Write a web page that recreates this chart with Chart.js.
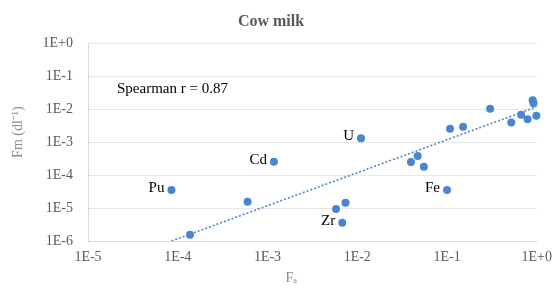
<!DOCTYPE html>
<html>
<head>
<meta charset="utf-8">
<script src="https://cdn.jsdelivr.net/npm/chart.js@4/dist/chart.umd.min.js"></script>
<style>
  html, body { margin: 0; padding: 0; background: #ffffff; }
  #wrap { width: 560px; height: 289px; }
</style>
</head>
<body>
<div id="wrap"><canvas id="c" width="560" height="289"></canvas></div>
<script>
// ---- data ----
const fa = [8.5e-5, 1.37e-4, 6.0e-4, 1.18e-3, 5.8e-3, 6.8e-3, 7.4e-3, 1.10e-2,
            3.96e-2, 4.71e-2, 5.52e-2, 0.100, 0.108, 0.151, 0.302, 0.52, 0.67,
            0.79, 0.90, 0.92, 0.99];
const fm = [3.5e-5, 1.55e-6, 1.55e-5, 2.53e-4, 9.3e-6, 3.6e-6, 1.45e-5, 1.3e-3,
            2.5e-4, 3.8e-4, 1.8e-4, 3.5e-5, 2.53e-3, 2.9e-3, 1.02e-2, 3.95e-3,
            6.7e-3, 4.97e-3, 1.87e-2, 1.51e-2, 6.3e-3];
const pointNames = ['Pu', '', '', 'Cd', '', 'Zr', '', 'U', '', '', '', 'Fe',
                    '', '', '', '', '', '', '', '', ''];
const trendFa = [8.5e-5, 0.99];
const trendFm = [1.0e-6, 1.17e-2];
const xTicks = [1e-5, 1e-4, 1e-3, 1e-2, 1e-1, 1];
const yTicks = [1e-6, 1e-5, 1e-4, 1e-3, 1e-2, 1e-1, 1];
const titleText = 'Cow milk';
const xTitle = 'F\u2090';
const yTitle = 'Fm (dl\u207B\u00B9)';
const noteText = 'Spearman r = 0.87';

const SERIF = '"Liberation Serif", "Times New Roman", serif';
const BLUE = '#4a86d0';

function fmtExp(v) {
  const e = Math.round(Math.log10(v));
  return '1E' + (e >= 0 ? '+' : '-') + Math.abs(e);
}

const textPlugin = {
  id: 'textPlugin',
  afterDatasetsDraw(chart) {
    const ctx = chart.ctx;
    const xs = chart.scales.x, ys = chart.scales.y;
    const area = chart.chartArea;
    ctx.save();
    // point labels
    ctx.fillStyle = '#000000';
    ctx.font = '15px ' + SERIF;
    ctx.textAlign = 'right';
    ctx.textBaseline = 'middle';
    pointNames.forEach((n, i) => {
      if (!n) return;
      const px = xs.getPixelForValue(fa[i]);
      const py = ys.getPixelForValue(fm[i]);
      ctx.fillText(n, px - 7, py - 2);
    });
    // Spearman note
    ctx.textAlign = 'left';
    ctx.fillText(noteText, area.left + 29, area.top + 46);
    // axis titles
    ctx.fillStyle = '#8c8c8c';
    ctx.font = '14px ' + SERIF;
    ctx.textAlign = 'center';
    ctx.fillText(xTitle, (area.left + area.right) / 2 - 21, 278);
    ctx.translate(18, (area.top + area.bottom) / 2 - 10);
    ctx.rotate(-Math.PI / 2);
    ctx.fillText(yTitle, 0, 0);
    ctx.restore();
  }
};

new Chart(document.getElementById('c'), {
  type: 'scatter',
  data: {
    datasets: [
      {
        type: 'line',
        data: trendFa.map((x, i) => ({ x: x, y: trendFm[i] })),
        borderColor: BLUE,
        borderWidth: 1.6,
        borderDash: [2, 2],
        pointRadius: 0,
        fill: false,
        order: 2
      },
      {
        data: fa.map((x, i) => ({ x: x, y: fm[i] })),
        backgroundColor: BLUE,
        borderColor: BLUE,
        pointRadius: 4,
        pointBorderWidth: 0,
        clip: false,
        order: 1
      }
    ]
  },
  options: {
    responsive: false,
    animation: false,
    events: [],
    layout: { padding: { left: 0, right: 18, top: 0, bottom: 0 } },
    plugins: {
      legend: { display: false },
      tooltip: { enabled: false },
      title: {
        display: true,
        text: titleText,
        color: '#595959',
        font: { family: SERIF, size: 16, weight: 'bold' },
        padding: { top: 12, bottom: 12 }
      }
    },
    scales: {
      x: {
        type: 'logarithmic',
        min: 1e-5,
        max: 1,
        afterBuildTicks: (s) => { s.ticks = xTicks.map(v => ({ value: v })); },
        afterFit: (s) => { s.height = 48; },
        ticks: {
          callback: (v) => fmtExp(v),
          color: '#595959',
          font: { family: SERIF, size: 14 },
          padding: 8,
          maxRotation: 0,
          autoSkip: false
        },
        grid: { display: false, drawTicks: false },
        border: { display: true, color: '#d9d9d9', width: 1 }
      },
      y: {
        type: 'logarithmic',
        min: 1e-6,
        max: 1,
        afterBuildTicks: (s) => { s.ticks = yTicks.map(v => ({ value: v })); },
        afterFit: (s) => { s.width = 88; },
        ticks: {
          callback: (v) => fmtExp(v),
          color: '#595959',
          font: { family: SERIF, size: 14 },
          padding: 15,
          autoSkip: false
        },
        grid: { color: '#e6e6e6', drawTicks: false },
        border: { display: true, color: '#d9d9d9', width: 1 }
      }
    }
  },
  plugins: [textPlugin]
});
</script>
</body>
</html>
